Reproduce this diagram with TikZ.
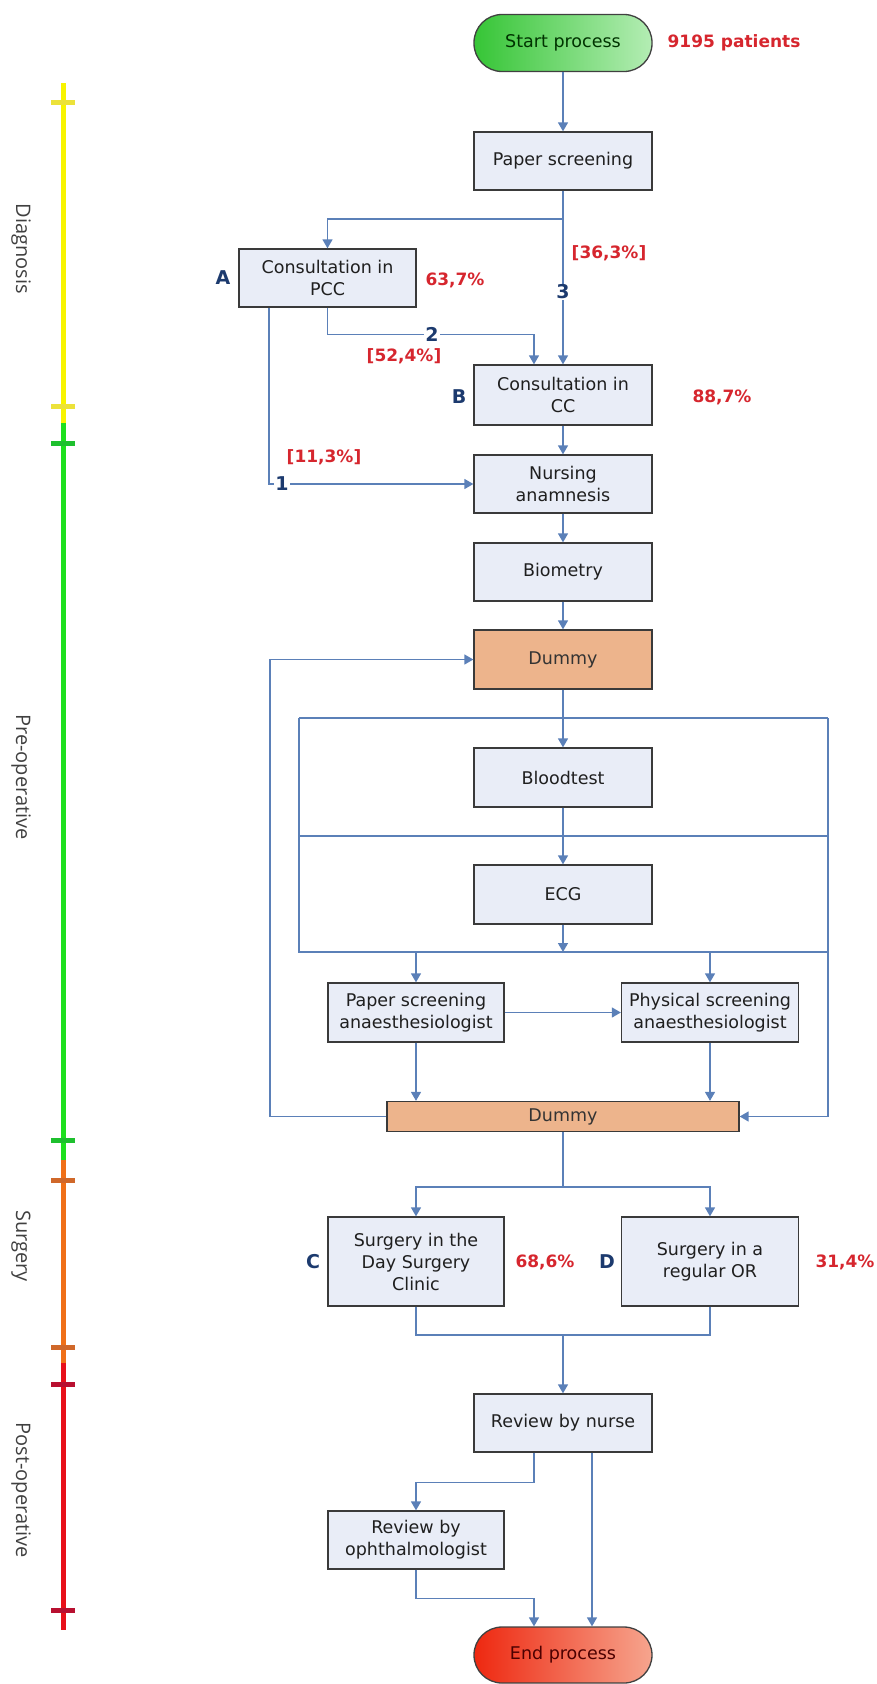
\documentclass[tikz,border=0pt]{standalone}
\usepackage{fontspec}
\setmainfont{DejaVu Sans}
\newfontfamily\phasefont{Open Sans}
\usetikzlibrary{arrows.meta,calc}

\definecolor{flow}{HTML}{5B80B8}
\definecolor{boxfill}{HTML}{E9EDF7}
\definecolor{boxline}{HTML}{3A3A3A}
\definecolor{dummyfill}{HTML}{EDB48C}
\definecolor{pct}{HTML}{D6262E}
\definecolor{navy}{HTML}{1C3A6E}
\definecolor{startA}{HTML}{36C536}
\definecolor{startB}{HTML}{B4EDB4}
\definecolor{endA}{HTML}{EE2810}
\definecolor{endB}{HTML}{F6A58E}
\definecolor{axYellow}{HTML}{F8F400}
\definecolor{axYellowTick}{HTML}{ECE23A}
\definecolor{axGreen}{HTML}{1EE01E}
\definecolor{axGreenTick}{HTML}{1EC02E}
\definecolor{axOrange}{HTML}{F07018}
\definecolor{axOrangeTick}{HTML}{D0682A}
\definecolor{axRed}{HTML}{E8101A}
\definecolor{axRedTick}{HTML}{B81030}

\begin{document}
\begin{tikzpicture}[x=1pt,y=-1pt,
  proc/.style={draw=boxline, line width=1.3pt, fill=boxfill,
    minimum width=178pt, minimum height=58pt, align=center,
    inner sep=2pt, text=black!88,
    font=\fontsize{17.5}{22}\selectfont},
  dum/.style={proc, fill=dummyfill, text=black!80},
  terminal/.style={draw=black!75, line width=1.3pt, rounded corners=28pt,
    minimum width=178pt, minimum height=57pt,
    font=\fontsize{17.5}{22}\selectfont},
  flowline/.style={draw=flow, line width=1.5pt},
  arr/.style={flowline, -{Triangle[width=10pt,length=9pt]}},
  pctlbl/.style={text=pct, font=\bfseries\fontsize{17}{20}\selectfont},
  letter/.style={text=navy, font=\bfseries\fontsize{19}{22}\selectfont},
  num/.style={letter, fill=white, inner sep=1pt},
  phase/.style={rotate=-90, text=black!75,
    font=\phasefont\fontsize{20}{24}\selectfont},
  axis/.style={line width=5pt},
]
\useasboundingbox (0,0) rectangle (876,1684);

% ---------- phase axis ----------
\draw[axis, axYellow] (63,83) -- (63,423);
\draw[axis, axGreen] (63,423) -- (63,1160);
\draw[axis, axOrange] (63,1160) -- (63,1363);
\draw[axis, axRed] (63,1363) -- (63,1630);
\draw[axis, axYellowTick] (51,102) -- (75,102);
\draw[axis, axYellowTick] (51,406) -- (75,406);
\draw[axis, axGreenTick] (51,443) -- (75,443);
\draw[axis, axGreenTick] (51,1140) -- (75,1140);
\draw[axis, axOrangeTick] (51,1180) -- (75,1180);
\draw[axis, axOrangeTick] (51,1347) -- (75,1347);
\draw[axis, axRedTick] (51,1384) -- (75,1384);
\draw[axis, axRedTick] (51,1610) -- (75,1610);

\node[phase] (ph1) at (21,249) {Diagnosis};
\node[phase] (ph2) at (21,777) {Pre-operative};
\node[phase] (ph3) at (21,1246) {Surgery};
\node[phase] (ph4) at (21,1490) {Post-operative};

% ---------- process steps ----------
\node[terminal, left color=startA, right color=startB, text=black!80!green]
  (start) at (563,43) {Start process};
\node[proc] (paper) at (563,161) {Paper screening};
\node[proc, minimum width=177pt] (pcc) at (327.5,278) {Consultation in\\PCC};
\node[proc, minimum height=60pt] (cc) at (563,395) {Consultation in\\CC};
\node[proc] (nurs) at (563,484) {Nursing\\anamnesis};
\node[proc] (bio) at (563,572) {Biometry};
\node[dum, minimum height=59pt] (dum1) at (563,659.5) {Dummy};
\node[proc, minimum height=59pt] (blood) at (563,777.5) {Bloodtest};
\node[proc, minimum height=59pt] (ecg) at (563,894.5) {ECG};
\node[proc, minimum width=176pt, minimum height=59pt] (pan) at (416,1012.5)
  {Paper screening\\anaesthesiologist};
\node[proc, minimum width=177pt, minimum height=59pt] (phy) at (710,1012.5)
  {Physical screening\\anaesthesiologist};
\node[dum, minimum width=352pt, minimum height=30pt, inner sep=0pt]
  (dum2) at (563,1116.5) {Dummy};
\node[proc, minimum width=176pt, minimum height=89pt] (csurg) at (416,1261.5)
  {Surgery in the\\Day Surgery\\Clinic};
\node[proc, minimum width=177pt, minimum height=89pt] (dsurg) at (710,1261.5)
  {Surgery in a\\regular OR};
\node[proc] (rnurse) at (563,1423) {Review by nurse};
\node[proc, minimum width=176pt] (roph) at (416,1540)
  {Review by\\ophthalmologist};
\node[terminal, left color=endA, right color=endB, text=black!70!red,
  minimum height=56pt] (endp) at (563,1655) {End process};

% ---------- connectors: diagnosis ----------
\coordinate (j1) at (563,219);
\draw[arr] (start) -- (paper);
\draw[flowline] (paper.south) -- (j1);
\draw[arr] (j1) -| (pcc.north);
\draw[arr] (j1) -- (cc.north);
\draw[arr] (pcc.south) -- ++(0,27) -| ($(cc.north)+(-29,0)$);
\draw[arr] ($(pcc.south)+(-58.5,0)$) |- (nurs.west);

% ---------- connectors: pre-operative ----------
\draw[arr] (cc) -- (nurs);
\draw[arr] (nurs) -- (bio);
\draw[arr] (bio) -- (dum1);
\draw[arr] (dum1) -- (blood);
\draw[arr] (blood) -- (ecg);

\coordinate (ftl) at (299,718);
\coordinate (ftr) at (828,718);
\coordinate (fbl) at (299,952);
\coordinate (fbr) at (828,952);
\coordinate (fml) at (299,836);
\coordinate (fmr) at (828,836);
\coordinate (fbm) at (563,952);
\coordinate (loopc) at (270,1116.5);

\draw[flowline] (ftl) -- (ftr);
\draw[flowline] (ftl) -- (fbl) -- (fbr);
\draw[flowline] (fml) -- (fmr);
\draw[arr] (ftr) |- (dum2.east);
\draw[arr] (ecg.south) -- (fbm);
\draw[arr] (pan.north |- fbm) -- (pan.north);
\draw[arr] (phy.north |- fbm) -- (phy.north);
\draw[arr] (pan) -- (phy);
\draw[arr] (pan.south) -- (pan.south |- dum2.north);
\draw[arr] (phy.south) -- (phy.south |- dum2.north);
\draw[arr] (dum2.west) -- (loopc) |- (dum1.west);

% ---------- connectors: surgery and post-operative ----------
\coordinate (j2) at (563,1187);
\coordinate (j3) at (563,1335);
\draw[flowline] (dum2.south) -- (j2);
\draw[arr] (j2) -| (csurg.north);
\draw[arr] (j2) -| (dsurg.north);
\draw[flowline] (csurg.south) |- (j3);
\draw[flowline] (dsurg.south) |- (j3);
\draw[arr] (j3) -- (rnurse.north);
\draw[arr] ($(rnurse.south)+(-29,0)$) -- ++(0,30) -| (roph.north);
\draw[arr] (roph.south) -- ++(0,29) -| ($(endp.north)+(-29,0)$);
\draw[arr] ($(rnurse.south)+(29,0)$) -- ($(endp.north)+(29,0)$);

% ---------- labels ----------
\node[pctlbl] (pat) at (734,43) {9195 patients};
\node[letter] (la) at (223,278) {A};
\node[pctlbl] (p637) at (455,280) {63,7\%};
\node[letter] (lb) at (459,397) {B};
\node[pctlbl] (p887) at (722,397) {88,7\%};
\node[pctlbl] (p363) at (609,253) {[36,3\%]};
\node[num] (n3) at (563,292) {3};
\node[num] (n2) at (432,334) {2};
\node[pctlbl] (p524) at (404,356) {[52,4\%]};
\node[num] (n1) at (282,484) {1};
\node[pctlbl] (p113) at (324,457) {[11,3\%]};
\node[letter] (lc) at (313,1262) {C};
\node[pctlbl] (p686) at (545,1262) {68,6\%};
\node[letter] (ld) at (607,1262) {D};
\node[pctlbl] (p314) at (845,1262) {31,4\%};
\end{tikzpicture}
\end{document}
